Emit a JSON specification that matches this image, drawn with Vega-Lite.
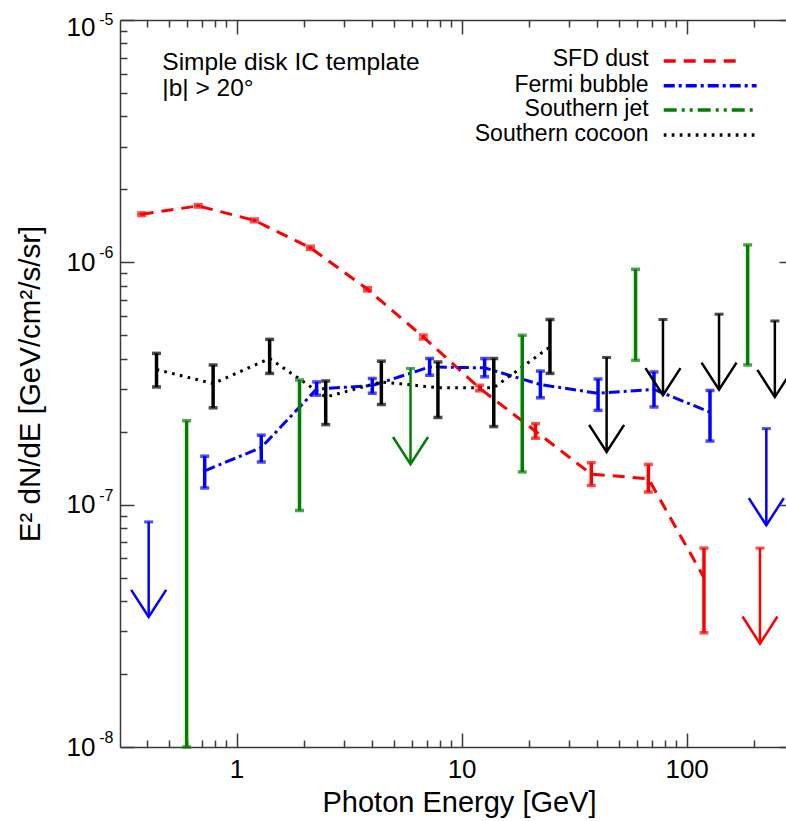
{
  "$schema": "https://vega.github.io/schema/vega-lite/v6.json",
  "width": 666,
  "height": 727,
  "autosize": {"type": "none"},
  "padding": {"left": 120, "top": 20, "right": 0, "bottom": 74},
  "background": "white",
  "config": {
    "font": "Liberation Sans",
    "view": {"stroke": null},
    "axis": {
      "grid": false,
      "domainColor": "#3a3a3a",
      "domainWidth": 1.5,
      "tickColor": "#3a3a3a",
      "tickWidth": 1.5,
      "labelFont": "Liberation Sans",
      "labelFontSize": 26,
      "labelColor": "#000000",
      "titleFont": "Liberation Sans",
      "titleFontSize": 29,
      "titleFontWeight": "normal",
      "titleColor": "#000000"
    }
  },
  "datasets": {
    "bars": [
      {"series": "SFD dust", "E": 0.379, "v": 1.58e-6, "lo": 1.56e-6, "hi": 1.6e-6},
      {"series": "SFD dust", "E": 0.676, "v": 1.71e-6, "lo": 1.69e-6, "hi": 1.73e-6},
      {"series": "SFD dust", "E": 1.2, "v": 1.49e-6, "lo": 1.47e-6, "hi": 1.51e-6},
      {"series": "SFD dust", "E": 2.13, "v": 1.148e-6, "lo": 1.13e-6, "hi": 1.165e-6},
      {"series": "SFD dust", "E": 3.82, "v": 7.74e-7, "lo": 7.62e-7, "hi": 7.86e-7},
      {"series": "SFD dust", "E": 6.76, "v": 4.92e-7, "lo": 4.83e-7, "hi": 5.01e-7},
      {"series": "SFD dust", "E": 12.0, "v": 3.03e-7, "lo": 2.95e-7, "hi": 3.11e-7},
      {"series": "SFD dust", "E": 21.3, "v": 2.01e-7, "lo": 1.88e-7, "hi": 2.16e-7},
      {"series": "SFD dust", "E": 37.7, "v": 1.336e-7, "lo": 1.2e-7, "hi": 1.49e-7},
      {"series": "SFD dust", "E": 67.6, "v": 1.28e-7, "lo": 1.127e-7, "hi": 1.466e-7},
      {"series": "SFD dust", "E": 119.4, "v": 5.0e-8, "lo": 2.96e-8, "hi": 6.62e-8},
      {"series": "Fermi bubble", "E": 0.722, "v": 1.38e-7, "lo": 1.172e-7, "hi": 1.585e-7},
      {"series": "Fermi bubble", "E": 1.288, "v": 1.72e-7, "lo": 1.5e-7, "hi": 1.936e-7},
      {"series": "Fermi bubble", "E": 2.27, "v": 3.0e-7, "lo": 2.83e-7, "hi": 3.21e-7},
      {"series": "Fermi bubble", "E": 4.01, "v": 3.1e-7, "lo": 2.88e-7, "hi": 3.32e-7},
      {"series": "Fermi bubble", "E": 7.21, "v": 3.7e-7, "lo": 3.42e-7, "hi": 4.01e-7},
      {"series": "Fermi bubble", "E": 12.66, "v": 3.67e-7, "lo": 3.37e-7, "hi": 4.01e-7},
      {"series": "Fermi bubble", "E": 22.4, "v": 3.13e-7, "lo": 2.76e-7, "hi": 3.56e-7},
      {"series": "Fermi bubble", "E": 40.4, "v": 2.88e-7, "lo": 2.45e-7, "hi": 3.3e-7},
      {"series": "Fermi bubble", "E": 71.6, "v": 2.99e-7, "lo": 2.53e-7, "hi": 3.53e-7},
      {"series": "Fermi bubble", "E": 127, "v": 2.41e-7, "lo": 1.83e-7, "hi": 2.96e-7},
      {"series": "Southern jet", "E": 0.6, "lo": 1e-8, "hi": 2.22e-7},
      {"series": "Southern jet", "E": 1.905, "lo": 9.46e-8, "hi": 3.27e-7},
      {"series": "Southern jet", "E": 18.6, "lo": 1.365e-7, "hi": 5.0e-7},
      {"series": "Southern jet", "E": 59.3, "lo": 3.94e-7, "hi": 9.36e-7},
      {"series": "Southern jet", "E": 186.7, "lo": 3.77e-7, "hi": 1.18e-6},
      {"series": "Southern cocoon", "E": 0.441, "v": 3.61e-7, "lo": 3.06e-7, "hi": 4.21e-7},
      {"series": "Southern cocoon", "E": 0.787, "v": 3.16e-7, "lo": 2.51e-7, "hi": 3.77e-7},
      {"series": "Southern cocoon", "E": 1.403, "v": 4.01e-7, "lo": 3.48e-7, "hi": 4.81e-7},
      {"series": "Southern cocoon", "E": 2.49, "v": 2.78e-7, "lo": 2.14e-7, "hi": 3.24e-7},
      {"series": "Southern cocoon", "E": 4.4, "v": 3.21e-7, "lo": 2.59e-7, "hi": 3.91e-7},
      {"series": "Southern cocoon", "E": 7.85, "v": 3.04e-7, "lo": 2.29e-7, "hi": 3.88e-7},
      {"series": "Southern cocoon", "E": 13.9, "v": 3.04e-7, "lo": 2.1e-7, "hi": 4.01e-7},
      {"series": "Southern cocoon", "E": 24.7, "v": 4.48e-7, "lo": 3.48e-7, "hi": 5.81e-7}
    ],
    "limits": [
      {"series": "SFD dust", "E": 211.8, "ul": 6.62e-8, "tip": 2.67e-8},
      {"series": "Fermi bubble", "E": 0.407, "ul": 8.49e-8, "tip": 3.44e-8},
      {"series": "Fermi bubble", "E": 226, "ul": 2.06e-7, "tip": 8.22e-8},
      {"series": "Southern jet", "E": 5.93, "ul": 3.65e-7, "tip": 1.47e-7},
      {"series": "Southern cocoon", "E": 44.1, "ul": 4.05e-7, "tip": 1.65e-7},
      {"series": "Southern cocoon", "E": 78.5, "ul": 5.81e-7, "tip": 2.83e-7},
      {"series": "Southern cocoon", "E": 139.3, "ul": 6.11e-7, "tip": 2.98e-7},
      {"series": "Southern cocoon", "E": 246.6, "ul": 5.73e-7, "tip": 2.78e-7}
    ]
  },
  "layer": [
    {
      "data": {"name": "bars"},
      "transform": [{"filter": "isValid(datum.v)"}],
      "mark": {"type": "line", "strokeWidth": 3},
      "encoding": {
        "x": {"field": "E", "type": "quantitative", "scale": {"type": "log", "domain": [0.3035, 276.4], "nice": false},
          "axis": {"orient": "bottom", "values": [0.4, 0.5, 0.6, 0.7, 0.8, 0.9, 2, 3, 4, 5, 6, 7, 8, 9, 20, 30, 40, 50, 60, 70, 80, 90, 200], "tickSize": -7, "labels": false, "domain": false, "title": null}},
        "y": {"field": "v", "type": "quantitative", "scale": {"type": "log", "domain": [1e-8, 1e-5], "nice": false},
          "axis": {"orient": "left", "values": [2e-8, 3e-8, 4e-8, 5e-8, 6e-8, 7e-8, 8e-8, 9e-8, 2e-7, 3e-7, 4e-7, 5e-7, 6e-7, 7e-7, 8e-7, 9e-7, 2e-6, 3e-6, 4e-6, 5e-6, 6e-6, 7e-6, 8e-6, 9e-6], "tickSize": -7, "labels": false, "domain": false, "title": null}},
        "color": {"field": "series", "type": "nominal", "scale": {"domain": ["SFD dust", "Fermi bubble", "Southern jet", "Southern cocoon"], "range": ["#ff0000", "#0000ff", "#008000", "#000000"]}, "legend": null},
        "strokeDash": {"field": "series", "type": "nominal", "scale": {"domain": ["SFD dust", "Fermi bubble", "Southern jet", "Southern cocoon"], "range": [[12, 8], [11, 4, 3, 4], [13, 5, 3, 5, 3, 5], [2.7, 5.3]]}, "legend": null}
      }
    },
    {
      "data": {"name": "bars"},
      "mark": {"type": "rule", "strokeWidth": 3.5},
      "encoding": {
        "x": {"field": "E", "type": "quantitative", "scale": {"type": "log", "domain": [0.3035, 276.4], "nice": false},
          "axis": {"orient": "bottom", "values": [1, 10, 100], "format": "~g", "tickSize": -14, "labelPadding": 23, "labelFlush": false, "labelOverlap": false, "domain": true, "title": "Photon Energy [GeV]", "titlePadding": 6, "titleX": 339}},
        "y": {"field": "lo", "type": "quantitative", "scale": {"type": "log", "domain": [1e-8, 1e-5], "nice": false},
          "axis": {"orient": "left", "values": [1e-8, 1e-7, 1e-6, 1e-5], "ticks": false, "labelPadding": 25, "labelFlush": false, "labelOverlap": false,
            "labelExpr": "'10'",
            "labelOffset": {"condition": {"test": "datum.value > 5e-6", "value": 7.5}, "value": 0},
            "domain": true, "title": "E² dN/dE [GeV/cm²/s/sr]", "titleFontSize": 29.5, "titlePadding": 21}},
        "y2": {"field": "hi"},
        "color": {"field": "series", "type": "nominal", "scale": {"domain": ["SFD dust", "Fermi bubble", "Southern jet", "Southern cocoon"], "range": ["#ff0000", "#0000ff", "#008000", "#000000"]}, "legend": null}
      }
    },
    {
      "data": {"name": "bars"},
      "transform": [{"fold": ["lo", "hi"], "as": ["end", "val"]}],
      "mark": {"type": "tick", "orient": "horizontal", "size": 9, "thickness": 3.5},
      "encoding": {
        "x": {"field": "E", "type": "quantitative", "scale": {"type": "log", "domain": [0.3035, 276.4], "nice": false},
          "axis": {"orient": "top", "values": [1, 10, 100], "tickSize": -14, "labels": false, "domain": true, "title": null}},
        "y": {"field": "val", "type": "quantitative", "scale": {"type": "log", "domain": [1e-8, 1e-5], "nice": false},
          "axis": {"orient": "right", "values": [1e-8, 1e-7, 1e-6, 1e-5], "tickSize": -7, "labels": false, "domain": false, "title": null}},
        "color": {"field": "series", "type": "nominal", "scale": {"domain": ["SFD dust", "Fermi bubble", "Southern jet", "Southern cocoon"], "range": ["#ff0000", "#0000ff", "#008000", "#000000"]}, "legend": null}
      }
    },
    {
      "data": {"name": "limits"},
      "mark": {"type": "rule", "strokeWidth": 2.5},
      "encoding": {
        "x": {"field": "E", "type": "quantitative", "scale": {"type": "log", "domain": [0.3035, 276.4], "nice": false},
          "axis": {"orient": "top", "values": [0.4, 0.5, 0.6, 0.7, 0.8, 0.9, 2, 3, 4, 5, 6, 7, 8, 9, 20, 30, 40, 50, 60, 70, 80, 90, 200], "tickSize": -7, "labels": false, "domain": false, "title": null}},
        "y": {"field": "ul", "type": "quantitative", "scale": {"type": "log", "domain": [1e-8, 1e-5], "nice": false}, "axis": null},
        "y2": {"field": "tip"},
        "color": {"field": "series", "type": "nominal", "scale": {"domain": ["SFD dust", "Fermi bubble", "Southern jet", "Southern cocoon"], "range": ["#ff0000", "#0000ff", "#008000", "#000000"]}, "legend": null}
      }
    },
    {
      "data": {"name": "limits"},
      "mark": {"type": "tick", "orient": "horizontal", "size": 9, "thickness": 3},
      "encoding": {
        "x": {"field": "E", "type": "quantitative", "scale": {"type": "log", "domain": [0.3035, 276.4], "nice": false}, "axis": null},
        "y": {"field": "ul", "type": "quantitative", "scale": {"type": "log", "domain": [1e-8, 1e-5], "nice": false},
          "axis": {"orient": "left", "values": [1e-8, 1e-7, 1e-6, 1e-5], "ticks": false, "domain": false, "title": null, "labelFontSize": 16, "labelPadding": 7, "labelAlign": "right", "labelFlush": false, "labelOverlap": false,
            "labelExpr": "datum.value > 5e-6 ? '-5' : datum.value > 5e-7 ? '-6' : datum.value > 5e-8 ? '-7' : '-8'",
            "labelOffset": {"condition": {"test": "datum.value > 5e-6", "value": -1}, "value": -9.5}}},
        "color": {"field": "series", "type": "nominal", "scale": {"domain": ["SFD dust", "Fermi bubble", "Southern jet", "Southern cocoon"], "range": ["#ff0000", "#0000ff", "#008000", "#000000"]}, "legend": null}
      }
    },
    {
      "data": {"name": "limits"},
      "mark": {"type": "point", "shape": "M-1,-1.55L0,0L1,-1.55", "size": 1225, "filled": false, "strokeWidth": 2.5, "opacity": 1},
      "encoding": {
        "x": {"field": "E", "type": "quantitative", "scale": {"type": "log", "domain": [0.3035, 276.4], "nice": false}, "axis": null},
        "y": {"field": "tip", "type": "quantitative", "scale": {"type": "log", "domain": [1e-8, 1e-5], "nice": false},
          "axis": {"orient": "left", "values": [1e-8, 1e-7, 1e-6, 1e-5], "tickSize": -14, "labels": false, "domain": false, "title": null}},
        "color": {"field": "series", "type": "nominal", "scale": {"domain": ["SFD dust", "Fermi bubble", "Southern jet", "Southern cocoon"], "range": ["#ff0000", "#0000ff", "#008000", "#000000"]}, "legend": null}
      }
    },
    {
      "data": {"values": [{"note": "Simple disk IC template"}]},
      "mark": {"type": "text", "align": "left", "baseline": "middle", "fontSize": 24.5, "font": "Liberation Sans", "color": "#000000"},
      "encoding": {
        "x": {"datum": 0.468, "type": "quantitative", "scale": {"type": "log", "domain": [0.3035, 276.4], "nice": false}, "axis": null},
        "y": {"datum": 6.62e-6, "type": "quantitative", "scale": {"type": "log", "domain": [1e-8, 1e-5], "nice": false}, "axis": null},
        "text": {"field": "note"}
      }
    },
    {
      "data": {"values": [{"note": "|b| > 20°"}]},
      "mark": {"type": "text", "align": "left", "baseline": "middle", "fontSize": 24.5, "font": "Liberation Sans", "color": "#000000"},
      "encoding": {
        "x": {"datum": 0.468, "type": "quantitative", "scale": {"type": "log", "domain": [0.3035, 276.4], "nice": false}, "axis": null},
        "y": {"datum": 5.17e-6, "type": "quantitative", "scale": {"type": "log", "domain": [1e-8, 1e-5], "nice": false}, "axis": null},
        "text": {"field": "note"}
      }
    },
    {
      "data": {"values": [{"series": "SFD dust"}]},
      "layer": [
        {
          "mark": {"type": "text", "align": "right", "baseline": "middle", "fontSize": 23, "font": "Liberation Sans", "color": "#000000"},
          "encoding": {
            "x": {"datum": 67.8, "type": "quantitative", "scale": {"type": "log", "domain": [0.3035, 276.4], "nice": false}, "axis": null},
            "y": {"datum": 6.9e-6, "type": "quantitative", "scale": {"type": "log", "domain": [1e-8, 1e-5], "nice": false}, "axis": null},
            "text": {"field": "series"}
          }
        },
        {
          "mark": {"type": "rule", "strokeWidth": 3.5},
          "encoding": {
            "x": {"datum": 79.1, "type": "quantitative", "scale": {"type": "log", "domain": [0.3035, 276.4], "nice": false}, "axis": null},
            "x2": {"datum": 177},
            "y": {"datum": 6.77e-6, "type": "quantitative", "scale": {"type": "log", "domain": [1e-8, 1e-5], "nice": false}, "axis": null},
            "color": {"field": "series", "type": "nominal", "scale": {"domain": ["SFD dust", "Fermi bubble", "Southern jet", "Southern cocoon"], "range": ["#ff0000", "#0000ff", "#008000", "#000000"]}, "legend": null},
            "strokeDash": {"field": "series", "type": "nominal", "scale": {"domain": ["SFD dust", "Fermi bubble", "Southern jet", "Southern cocoon"], "range": [[12, 8], [11, 4, 3, 4], [13, 5, 3, 5, 3, 5], [2.7, 5.3]]}, "legend": null}
          }
        }
      ]
    },
    {
      "data": {"values": [{"series": "Fermi bubble"}]},
      "layer": [
        {
          "mark": {"type": "text", "align": "right", "baseline": "middle", "fontSize": 23, "font": "Liberation Sans", "color": "#000000"},
          "encoding": {
            "x": {"datum": 67.8, "type": "quantitative", "scale": {"type": "log", "domain": [0.3035, 276.4], "nice": false}, "axis": null},
            "y": {"datum": 5.41e-6, "type": "quantitative", "scale": {"type": "log", "domain": [1e-8, 1e-5], "nice": false}, "axis": null},
            "text": {"field": "series"}
          }
        },
        {
          "mark": {"type": "rule", "strokeWidth": 3.5},
          "encoding": {
            "x": {"datum": 79.1, "type": "quantitative", "scale": {"type": "log", "domain": [0.3035, 276.4], "nice": false}, "axis": null},
            "x2": {"datum": 204.6},
            "y": {"datum": 5.35e-6, "type": "quantitative", "scale": {"type": "log", "domain": [1e-8, 1e-5], "nice": false}, "axis": null},
            "color": {"field": "series", "type": "nominal", "scale": {"domain": ["SFD dust", "Fermi bubble", "Southern jet", "Southern cocoon"], "range": ["#ff0000", "#0000ff", "#008000", "#000000"]}, "legend": null},
            "strokeDash": {"field": "series", "type": "nominal", "scale": {"domain": ["SFD dust", "Fermi bubble", "Southern jet", "Southern cocoon"], "range": [[12, 8], [11, 4, 3, 4], [13, 5, 3, 5, 3, 5], [2.7, 5.3]]}, "legend": null}
          }
        }
      ]
    },
    {
      "data": {"values": [{"series": "Southern jet"}]},
      "layer": [
        {
          "mark": {"type": "text", "align": "right", "baseline": "middle", "fontSize": 23, "font": "Liberation Sans", "color": "#000000"},
          "encoding": {
            "x": {"datum": 67.8, "type": "quantitative", "scale": {"type": "log", "domain": [0.3035, 276.4], "nice": false}, "axis": null},
            "y": {"datum": 4.3e-6, "type": "quantitative", "scale": {"type": "log", "domain": [1e-8, 1e-5], "nice": false}, "axis": null},
            "text": {"field": "series"}
          }
        },
        {
          "mark": {"type": "rule", "strokeWidth": 3.5},
          "encoding": {
            "x": {"datum": 79.1, "type": "quantitative", "scale": {"type": "log", "domain": [0.3035, 276.4], "nice": false}, "axis": null},
            "x2": {"datum": 204.6},
            "y": {"datum": 4.25e-6, "type": "quantitative", "scale": {"type": "log", "domain": [1e-8, 1e-5], "nice": false}, "axis": null},
            "color": {"field": "series", "type": "nominal", "scale": {"domain": ["SFD dust", "Fermi bubble", "Southern jet", "Southern cocoon"], "range": ["#ff0000", "#0000ff", "#008000", "#000000"]}, "legend": null},
            "strokeDash": {"field": "series", "type": "nominal", "scale": {"domain": ["SFD dust", "Fermi bubble", "Southern jet", "Southern cocoon"], "range": [[12, 8], [11, 4, 3, 4], [13, 5, 3, 5, 3, 5], [2.7, 5.3]]}, "legend": null}
          }
        }
      ]
    },
    {
      "data": {"values": [{"series": "Southern cocoon"}]},
      "layer": [
        {
          "mark": {"type": "text", "align": "right", "baseline": "middle", "fontSize": 23, "font": "Liberation Sans", "color": "#000000"},
          "encoding": {
            "x": {"datum": 67.8, "type": "quantitative", "scale": {"type": "log", "domain": [0.3035, 276.4], "nice": false}, "axis": null},
            "y": {"datum": 3.39e-6, "type": "quantitative", "scale": {"type": "log", "domain": [1e-8, 1e-5], "nice": false}, "axis": null},
            "text": {"field": "series"}
          }
        },
        {
          "mark": {"type": "rule", "strokeWidth": 3.5},
          "encoding": {
            "x": {"datum": 79.1, "type": "quantitative", "scale": {"type": "log", "domain": [0.3035, 276.4], "nice": false}, "axis": null},
            "x2": {"datum": 204.6},
            "y": {"datum": 3.35e-6, "type": "quantitative", "scale": {"type": "log", "domain": [1e-8, 1e-5], "nice": false}, "axis": null},
            "color": {"field": "series", "type": "nominal", "scale": {"domain": ["SFD dust", "Fermi bubble", "Southern jet", "Southern cocoon"], "range": ["#ff0000", "#0000ff", "#008000", "#000000"]}, "legend": null},
            "strokeDash": {"field": "series", "type": "nominal", "scale": {"domain": ["SFD dust", "Fermi bubble", "Southern jet", "Southern cocoon"], "range": [[12, 8], [11, 4, 3, 4], [13, 5, 3, 5, 3, 5], [2.7, 5.3]]}, "legend": null}
          }
        }
      ]
    }
  ],
  "resolve": {"axis": {"x": "independent", "y": "independent"}}
}
